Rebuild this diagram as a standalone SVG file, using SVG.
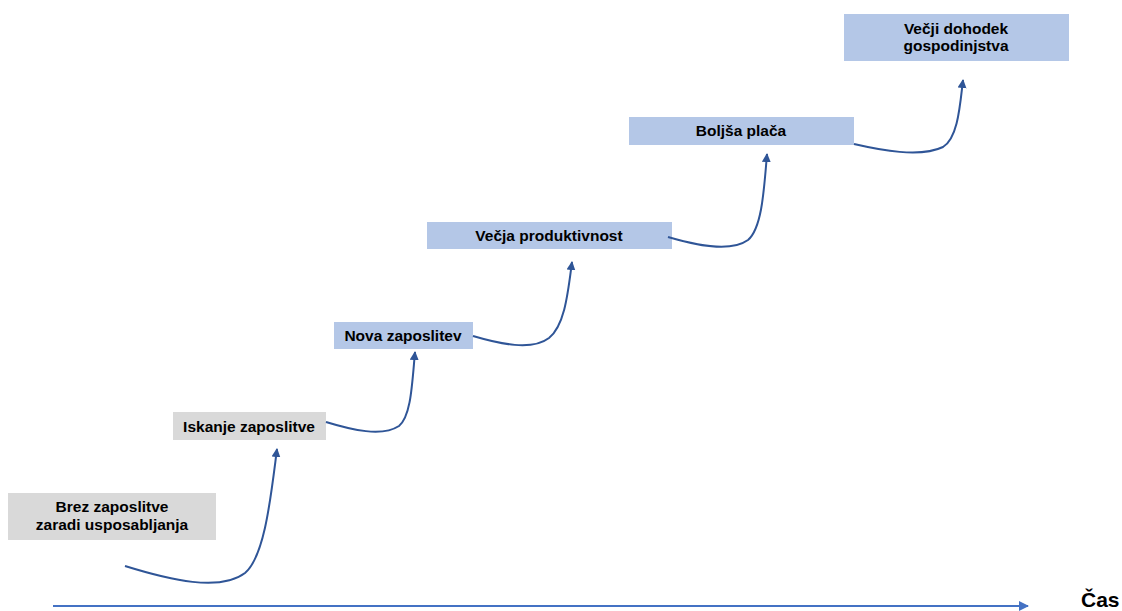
<svg xmlns="http://www.w3.org/2000/svg" width="1122" height="611" viewBox="0 0 1122 611">
<defs>
<style>
.g{fill:#d9d9d9}
.b{fill:#b4c7e7}
.t{font-family:"Liberation Sans",Arial,sans-serif;font-weight:bold;font-size:15.5px;fill:#000;text-anchor:middle}
.c{fill:none;stroke:#2f5597;stroke-width:2;marker-end:url(#ah)}
</style>
<marker id="ah" viewBox="0 0 10 10" refX="9" refY="5" markerWidth="4.5" markerHeight="4.5" orient="auto" markerUnits="strokeWidth">
<path d="M0,0 L10,5 L0,10 z" fill="#2f5597"/>
</marker>
<marker id="ah2" viewBox="0 0 10 10" refX="9" refY="5" markerWidth="5" markerHeight="5" orient="auto" markerUnits="strokeWidth">
<path d="M0,0 L10,5 L0,10 z" fill="#4472c4"/>
</marker>
</defs>
<rect width="1122" height="611" fill="#fff"/>
<g id="n1"><rect class="g" x="8" y="493" width="208" height="47"/><text class="t" x="112" y="512">Brez zaposlitve</text><text class="t" x="112" y="530">zaradi usposabljanja</text></g>
<g id="n2"><rect class="g" x="173" y="412" width="153" height="28"/><text class="t" x="249" y="431.5">Iskanje zaposlitve</text></g>
<g id="n3"><rect class="b" x="334" y="322" width="139" height="27"/><text class="t" x="403" y="341">Nova zaposlitev</text></g>
<g id="n4"><rect class="b" x="427" y="222" width="245" height="27"/><text class="t" x="549" y="241">Večja produktivnost</text></g>
<g id="n5"><rect class="b" x="629" y="117" width="225" height="28"/><text class="t" x="741" y="136">Boljša plača</text></g>
<g id="n6"><rect class="b" x="844" y="14" width="225" height="47"/><text class="t" x="956" y="34">Večji dohodek</text><text class="t" x="956" y="51">gospodinjstva</text></g>
<g id="axis-label"><text x="1081" y="607" style="font-family:'Liberation Sans',Arial,sans-serif;font-weight:bold;font-size:21px;fill:#000">Čas</text></g>
<g id="connectors">
<path class="c" d="M125,566 C170,580 220,592 245,573 C265,556 271,495 277,449"/>
<path class="c" d="M326,422 C352,430 382,437 399,426 C411,416 412,385 415,352"/>
<path class="c" d="M473,336 C500,344 532,351 549,338 C565,325 568,292 572,262"/>
<path class="c" d="M668,237 C695,245 730,253 748,240 C762,228 764,190 767,154"/>
<path class="c" d="M854,144 C880,150 920,158 943,147 C958,138 960,105 963,80"/>
<line x1="53" y1="606" x2="1028" y2="606" stroke="#4472c4" stroke-width="2" marker-end="url(#ah2)"/>
</g>
</svg>
